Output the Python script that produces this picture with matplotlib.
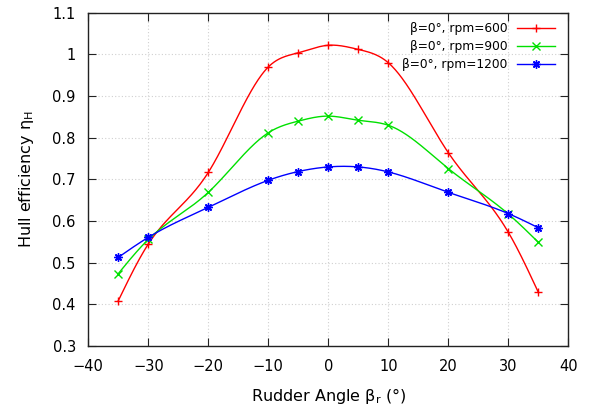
import numpy as np
import matplotlib
matplotlib.use("Agg")
import matplotlib.pyplot as plt

angles = [-35, -30, -20, -10, -5, 0, 5, 10, 20, 30, 35]
eta_600 = [0.409, 0.545, 0.717, 0.970, 1.004, 1.022, 1.012, 0.980, 0.764, 0.573, 0.429]
eta_900 = [0.474, 0.556, 0.669, 0.812, 0.840, 0.852, 0.842, 0.830, 0.726, 0.617, 0.549]
eta_1200 = [0.513, 0.561, 0.633, 0.698, 0.719, 0.730, 0.730, 0.718, 0.669, 0.618, 0.584]
labels = ["β=0°, rpm=600", "β=0°, rpm=900", "β=0°, rpm=1200"]
colors = ["#ff0000", "#00e000", "#0000ff"]
markers = ["+", "x", (8, 2, 0)]


def spline(x, y, n=500):
    x = np.asarray(x, float); y = np.asarray(y, float)
    m = len(x); h = np.diff(x)
    A = np.zeros((m, m)); b = np.zeros(m)
    A[0, 0] = A[-1, -1] = 1
    for i in range(1, m - 1):
        A[i, i - 1] = h[i - 1]; A[i, i] = 2 * (h[i - 1] + h[i]); A[i, i + 1] = h[i]
        b[i] = 6 * ((y[i + 1] - y[i]) / h[i] - (y[i] - y[i - 1]) / h[i - 1])
    M = np.linalg.solve(A, b)
    xs = np.linspace(x[0], x[-1], n)
    idx = np.clip(np.searchsorted(x, xs) - 1, 0, m - 2)
    x0 = x[idx]; x1 = x[idx + 1]; hh = x1 - x0
    ys = (M[idx] * (x1 - xs) ** 3 + M[idx + 1] * (xs - x0) ** 3) / (6 * hh) \
        + (y[idx] / hh - M[idx] * hh / 6) * (x1 - xs) + (y[idx + 1] / hh - M[idx + 1] * hh / 6) * (xs - x0)
    return xs, ys


fig = plt.figure(figsize=(5.9, 4.12), dpi=100)
ax = fig.add_axes([0.1497, 0.160, 0.8136, 0.809])

for ys, lab, c, mk in zip([eta_600, eta_900, eta_1200], labels, colors, markers):
    xs, sy = spline(angles, ys)
    ax.plot(xs, sy, color=c, lw=1.0)
    ax.plot(angles, ys, linestyle="none", marker=mk, color=c, ms=6, mew=1.0)
    ax.plot([], [], color=c, lw=1.0, marker=mk, ms=6, mew=1.0, label=lab)

ax.set_xlim(-40, 40)
ax.set_ylim(0.3, 1.1)
ax.set_xticks(np.arange(-40, 41, 10))
ax.set_yticks(np.arange(0.3, 1.101, 0.1))
ax.set_yticklabels(["0.3", "0.4", "0.5", "0.6", "0.7", "0.8", "0.9", "1", "1.1"])
ax.grid(True, color="#d0d0d0", linestyle=(0, (1, 2)), lw=0.8)
ax.tick_params(direction="in", top=True, right=True, length=6, labelsize=10.5, color="#222222")
ax.tick_params(axis="x", pad=9)
ax.tick_params(axis="y", pad=9)
for s in ax.spines.values():
    s.set_linewidth(1.0)
    s.set_color("#222222")

ax.set_xlabel(r"Rudder Angle β$_\mathrm{r}$ (°)", fontsize=11.5, labelpad=9)
ax.set_ylabel(r"Hull efficiency η$_\mathrm{H}$", fontsize=11.5, labelpad=12)

handles, labs = ax.get_legend_handles_labels()
leg = ax.legend(handles[:3], labs[:3], loc="upper right", frameon=False, markerfirst=False,
                fontsize=8.8, handlelength=3.1, borderaxespad=0.0, borderpad=0.0,
                labelspacing=0.42, handletextpad=0.75, bbox_to_anchor=(0.972, 0.972))
for t in leg.get_texts():
    t.set_ha("right")
leg._legend_box.align = "right"

fig.savefig("out.png", dpi=100)
